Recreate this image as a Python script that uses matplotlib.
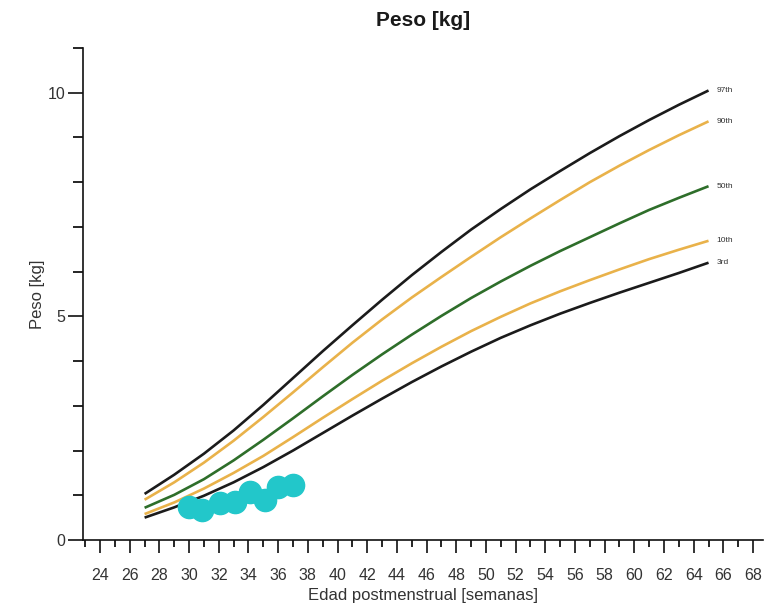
import matplotlib
matplotlib.use("Agg")
import matplotlib.pyplot as plt
from matplotlib.ticker import MultipleLocator, FixedLocator

plt.rcParams['font.family'] = ['Liberation Sans', 'DejaVu Sans']

weeks = [27, 29, 31, 33, 35, 37, 39, 41, 43, 45, 47, 49, 51, 53, 55, 57, 59, 61, 63, 65]
p97 = [1.03, 1.46, 1.93, 2.45, 3.02, 3.62, 4.22, 4.80, 5.37, 5.92, 6.44, 6.94, 7.40, 7.84, 8.25, 8.65, 9.03, 9.39, 9.73, 10.05]
p90 = [0.90, 1.29, 1.73, 2.22, 2.75, 3.30, 3.86, 4.41, 4.93, 5.42, 5.88, 6.33, 6.77, 7.19, 7.60, 8.00, 8.37, 8.72, 9.05, 9.36]
p50 = [0.72, 1.01, 1.36, 1.78, 2.24, 2.72, 3.21, 3.69, 4.15, 4.59, 5.01, 5.41, 5.78, 6.13, 6.46, 6.77, 7.08, 7.38, 7.65, 7.91]
p10 = [0.58, 0.84, 1.15, 1.50, 1.88, 2.30, 2.73, 3.15, 3.56, 3.95, 4.32, 4.67, 4.99, 5.29, 5.56, 5.81, 6.05, 6.28, 6.49, 6.69]
p03 = [0.50, 0.73, 0.99, 1.29, 1.63, 2.00, 2.39, 2.78, 3.16, 3.53, 3.88, 4.21, 4.52, 4.80, 5.06, 5.30, 5.53, 5.75, 5.97, 6.20]
curve_labels = ["97th", "90th", "50th", "10th", "3rd"]

pt_weeks = [30.0, 30.9, 32.1, 33.1, 34.1, 35.1, 36.0, 37.0]
pt_weight = [0.74, 0.67, 0.83, 0.85, 1.08, 0.90, 1.19, 1.23]

x_tick_labels = [str(v) for v in range(24, 69, 2)]
y_tick_labels = ["0", "5", "10"]

BLACK = "#1b1b1b"
ORANGE = "#E9B24A"
GREEN = "#2E6E2A"
CYAN = "#22C7CA"

fig = plt.figure(figsize=(7.7, 6.06), dpi=100)
ax = fig.add_axes([83/770, (606-540)/606, (763-83)/770, (540-48)/606])

series = [p97, p90, p50, p10, p03]
colors = [BLACK, ORANGE, GREEN, ORANGE, BLACK]
for vals, col, lab in zip(series, colors, curve_labels):
    ax.plot(weeks, vals, color=col, lw=1.9, solid_capstyle='butt', zorder=2)
    ax.text(weeks[-1] + 0.55, vals[-1], lab, fontsize=6, color="#333333",
            va='center', ha='left')

ax.plot(pt_weeks, pt_weight, 'o', color=CYAN, ms=16, mec=CYAN, zorder=3)

ax.set_xlim(22.85, 68.67)
ax.set_ylim(0, 11)

ax.xaxis.set_major_locator(FixedLocator(list(range(24, 69, 2))))
ax.set_xticklabels(x_tick_labels)
ax.xaxis.set_minor_locator(FixedLocator(list(range(23, 68, 2))))
ax.yaxis.set_major_locator(FixedLocator([0, 5, 10]))
ax.set_yticklabels(y_tick_labels)
ax.yaxis.set_minor_locator(MultipleLocator(1))

ax.tick_params(axis='x', which='major', direction='out', length=9, width=1.2,
               labelsize=11.5, pad=11, colors='#111111', labelcolor='#333333')
ax.tick_params(axis='x', which='minor', direction='out', length=5, width=1.2)
ax.tick_params(axis='y', which='major', direction='out', length=11, width=1.2,
               labelsize=11.5, pad=1.5, colors='#111111', labelcolor='#333333')
ax.tick_params(axis='y', which='minor', direction='out', length=7.5, width=1.2)

for s in ['top', 'right']:
    ax.spines[s].set_visible(False)
for s in ['left', 'bottom']:
    ax.spines[s].set_linewidth(1.2)
    ax.spines[s].set_color('#111111')

ax.set_xlabel("Edad postmenstrual [semanas]", fontsize=12, color='#333333', labelpad=4)
ax.set_ylabel("Peso [kg]", fontsize=12, color='#333333', labelpad=2)
fig.text(423/770, 1 - 21/606, "Peso [kg]", fontsize=15, fontweight='bold',
         ha='center', va='center', color='#1a1a1a')

fig.savefig("out.png", dpi=100)
